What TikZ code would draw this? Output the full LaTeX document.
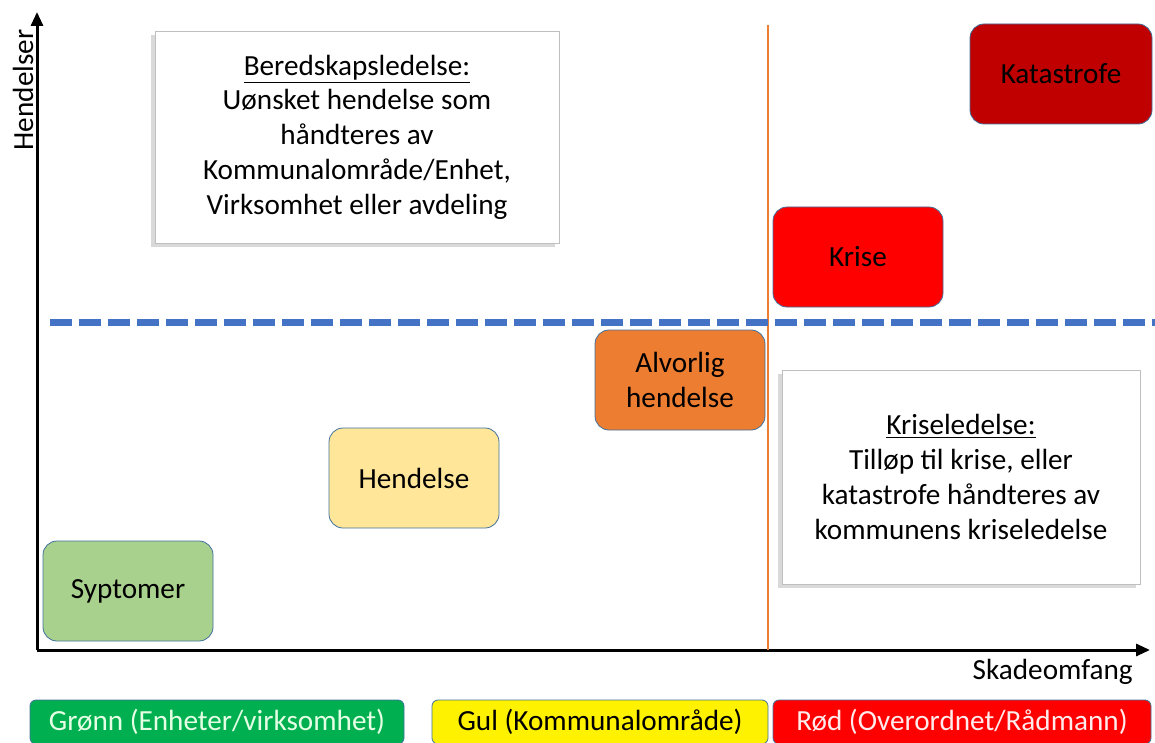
\documentclass[tikz,border=0pt]{standalone}
\usepackage{fontspec}
\setmainfont{Carlito}
\usepackage{tikz}
\usetikzlibrary{arrows.meta}
\usetikzlibrary{shadows}
\usetikzlibrary{positioning}
\definecolor{axisblue}{RGB}{68,114,196}
\definecolor{boxedge}{RGB}{65,113,156}
\definecolor{orangeline}{RGB}{237,125,49}
\definecolor{syptgreen}{RGB}{169,209,142}
\definecolor{hendyellow}{RGB}{255,230,153}
\definecolor{katred}{RGB}{192,0,0}
\definecolor{barGreen}{RGB}{0,176,80}

\begin{document}
\begin{tikzpicture}[
            x = 0.5pt, y = -0.5pt, % one unit is one pixel of the sketch
            > = {Triangle[length=7pt, width=6pt]}, % arrow head style
            font = \fontsize{14.6pt}{17.4pt}\selectfont,
            semithick % line style
        ]

        \tikzstyle{level}=[
            draw = boxedge,
            thin,
            rounded corners = 7pt,
            align = center,
            minimum width = 85pt,
            minimum height = 50pt
        ]
        \tikzstyle{note}=[
            draw = black!25,
            fill = white,
            thin,
            drop shadow = {shadow xshift=-2pt, shadow yshift=-2pt, opacity=0.3},
            align = center
        ]
        \tikzstyle{bar}=[
            draw = boxedge,
            thin,
            rounded corners = 3pt,
            minimum height = 22pt
        ]

        \useasboundingbox (0,0) rectangle (1155,743);

	% axes
        \coordinate (O) at (37,650);
        \coordinate (Ytop) at (37,12);
        \coordinate (Xend) at (1150,650);
        \draw[->, line width=1.5pt] (O) -- (Ytop);
        \draw[->, line width=1.5pt] (O) -- (Xend);
        \node[rotate=90] (ylab) at (23,90) {Hendelser};
        \node[anchor=east] (xlab) at (1140,672) {Skadeomfang};

        % split lines
        \coordinate (Vtop) at (768,25);
        \coordinate (Vbot) at (768,650);
        \draw[orangeline, line width=1.2pt] (Vtop) -- (Vbot);
        \coordinate (Hleft) at (50,322);
        \coordinate (Hright) at (1155,322);
        \draw[axisblue, line width=3.5pt, dash pattern=on 11pt off 3.5pt] (Hleft) -- (Hright);

        % text boxes
        \node[note, minimum width=202pt, minimum height=106pt] (bered) at (357,137)
            {\underline{Beredskapsledelse:}\\Uønsket hendelse som\\håndteres av\\Kommunalområde/Enhet,\\Virksomhet eller avdeling};
        \node[note, minimum width=179pt, minimum height=107pt] (krisel) at (961,477)
            {\underline{Kriseledelse:}\\Tilløp til krise, eller\\katastrofe håndteres av\\kommunens kriseledelse};

        % levels
        \node[level, fill=syptgreen] (sypt) at (128,591) {\raisebox{-1.5pt}{Syptomer}};
        \node[level, fill=hendyellow] (hend) at (414,478) {\raisebox{-1pt}{Hendelse}};
        \node[level, fill=orangeline] (alvor) at (680,380) {Alvorlig\\hendelse};
        \node[level, fill=red] (krise) at (858,257) {\raisebox{-1pt}{Krise}};
        \node[level, fill=katred, minimum width=91pt] (kat) at (1061,74) {Katastrofe};

        % colour bars
        \node[bar, fill=barGreen, text=white!90!green, minimum width=187pt] (gronn) at (217,722) {\raisebox{-1pt}{Grønn (Enheter/virksomhet)}};
        \node[bar, fill=yellow, minimum width=168pt] (gul) at (600,722) {\raisebox{-1pt}{Gul (Kommunalområde)}};
        \node[bar, fill=red, text=white!92!red, minimum width=189pt] (rod) at (962,722) {\raisebox{-1pt}{Rød (Overordnet/Rådmann)}};

  \end{tikzpicture}
\end{document}
